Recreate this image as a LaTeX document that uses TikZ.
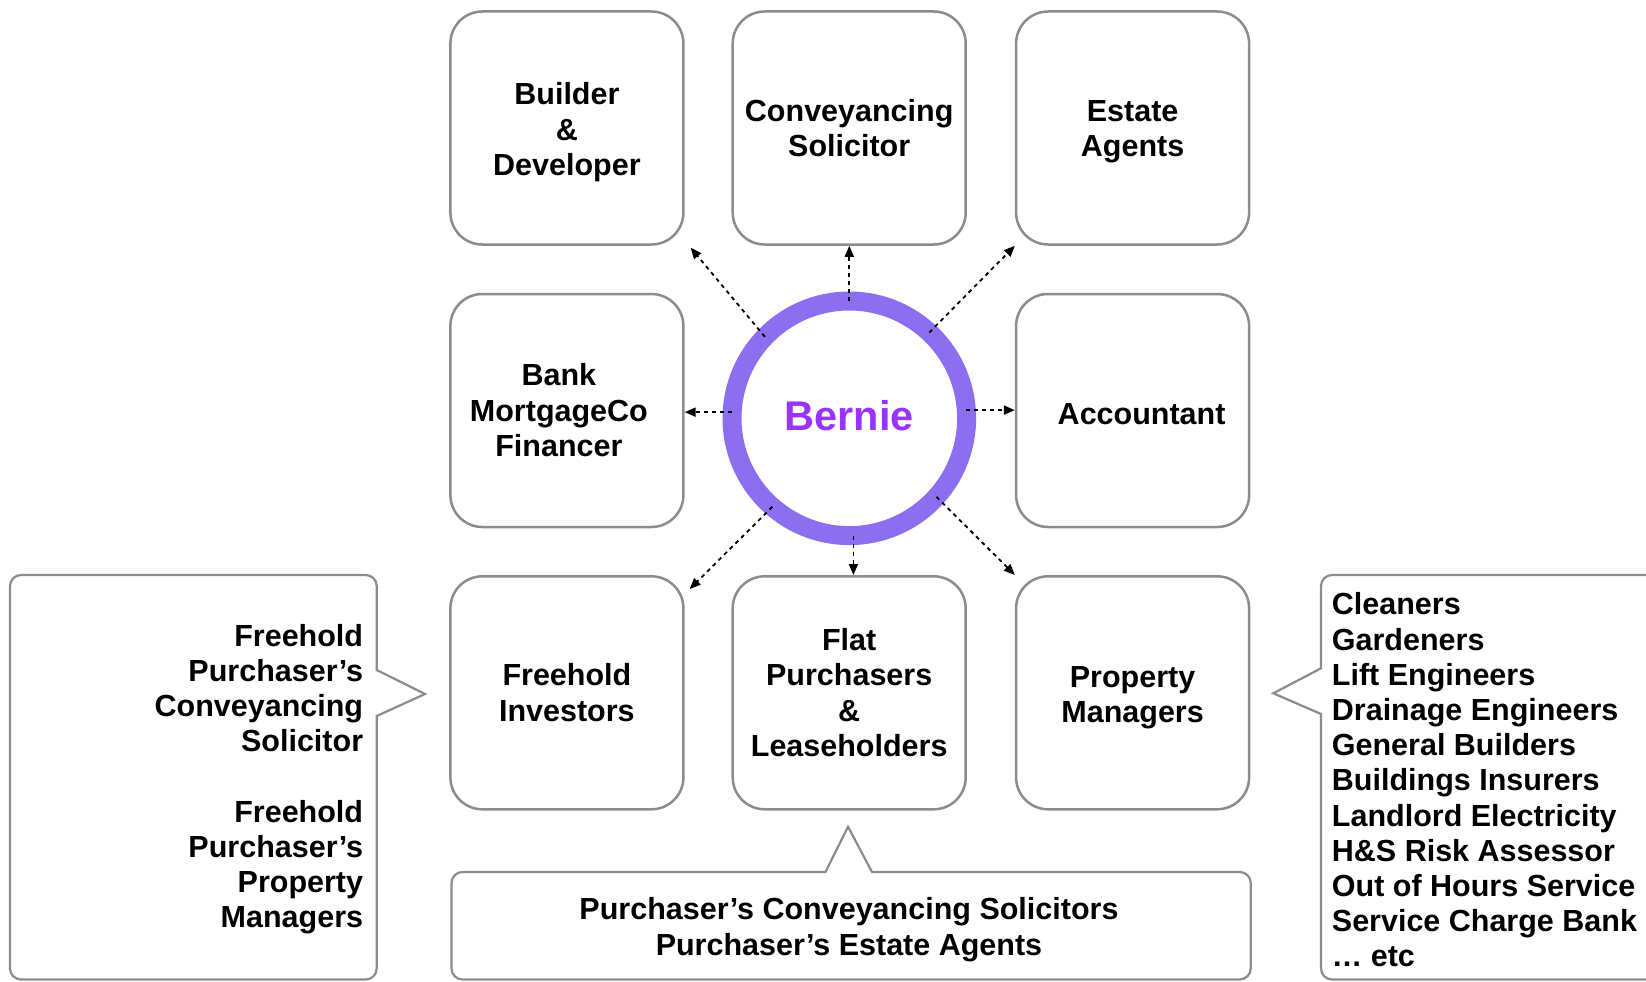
\documentclass[tikz,border=0pt]{standalone}
\usepackage{fontspec}
\setmainfont{Liberation Sans}
\usetikzlibrary{arrows.meta}
\definecolor{boxgray}{RGB}{140,140,140}
\definecolor{ringviolet}{RGB}{140,110,240}
\definecolor{berniepurple}{RGB}{153,51,255}
% a zero-width strut that makes the first line taller, lowering the block
\newcommand{\tallfirst}[1]{\rule{0pt}{#1}}

\begin{document}
\begin{tikzpicture}[x=1pt,y=-1pt,
  party/.style={draw=boxgray, line width=2.5pt, rounded corners=32pt,
    minimum width=233pt, minimum height=233pt, inner sep=0pt, align=center,
    font=\fontsize{30.5}{35.5}\selectfont\bfseries},
  link/.style={draw=black, line width=1.8pt, dash pattern=on 4pt off 4pt,
    -{Triangle[length=11pt,width=9pt]}},
  callout/.style={draw=boxgray, line width=2.2pt},
  calltext/.style={font=\fontsize{30.5}{35.2}\selectfont\bfseries, inner sep=0pt},
]
\useasboundingbox (0,0) rectangle (1646,982);
\clip (0,0) rectangle (1646,982);

% the eight parties around Bernie
\node[party] (builder) at (566.9,128)   {\tallfirst{30.4pt}Builder\\\&\\Developer};
\node[party] (conv)    at (849.2,128)   {Conveyancing\\Solicitor};
\node[party] (estate)  at (1132.6,128)  {\tallfirst{28.4pt}Estate\\Agents};
\node[party] (bank)    at (566.9,410.5) {\hspace*{-16pt}Bank\\\hspace*{-16pt}MortgageCo\\\hspace*{-16pt}Financer};
\node[party] (acct)    at (1132.6,410.5){\tallfirst{27.5pt}\hspace*{18pt}Accountant};
\node[party] (fhinv)   at (566.9,692.8) {Freehold\\Investors};
\node[party] (flat)    at (849.2,692.8) {Flat\\Purchasers\\\&\\Leaseholders};
\node[party] (pm)      at (1132.6,692.8){\tallfirst{30.4pt}Property\\Managers};

% central ring
\node[circle, draw=ringviolet, line width=19pt, minimum size=234.6pt,
  inner sep=0pt, outer sep=0pt, text=berniepurple,
  font=\fontsize{41.5}{48}\selectfont\bfseries] (bernie) at (849.3,418.3)
  {Bernie\rule[-6pt]{0pt}{6pt}};

% links from Bernie
\draw[link] (bernie.136) -- ([shift={(6,2)}]builder.south east);
\draw[link] (bernie.90) -- (bernie.90 |- conv.south);
\draw[link] (bernie.47.6) -- (estate.south west);
\draw[link] (bernie.177) -- (bernie.177 -| bank.east);
\draw[link] (bernie.4) -- (bernie.4 -| acct.west);
\draw[link] (bernie.-88.5) -- (bernie.-88.5 |- flat.north);
\draw[link] (bernie.229.5) -- ([shift={(5,14)}]fhinv.north east);
\draw[link] (bernie.-42) -- (pm.north west);

% left callout
\draw[callout] (10,800) [rounded corners=11pt] -- (10,575) -- (376.7,575) -- (376.7,620)
  [sharp corners] -- (376.7,670) -- (425,694) -- (376.7,716) -- (376.7,850)
  [rounded corners=11pt] -- (376.7,979.5) -- (10,979.5) -- cycle;
\node[calltext, anchor=east, align=right] (freeholdside) at (363.3,779)
  {Freehold\\Purchaser’s\\Conveyancing\\Solicitor\\~\\Freehold\\Purchaser’s\\Property\\Managers};

% right callout
\draw[callout] (1500,575) [rounded corners=11pt] -- (1321,575) -- (1321,620)
  [sharp corners] -- (1321,668.3) -- (1273.3,693.3) -- (1321,714) -- (1321,850)
  [rounded corners=11pt] -- (1321,979.5) -- (1700,979.5) -- (1700,575) -- cycle;
\node[calltext, anchor=west, align=left] (services) at (1331.7,780)
  {Cleaners\\Gardeners\\Lift Engineers\\Drainage Engineers\\General Builders\\Buildings Insurers\\Landlord Electricity\\H\&S Risk Assessor\\Out of Hours Service\\Service Charge Bank\\… etc};

% bottom callout
\draw[callout] (451.5,930) [rounded corners=11pt] -- (451.5,872) -- (780,872)
  [sharp corners] -- (825.5,872) -- (848,826.7) -- (872,872) -- (950,872)
  [rounded corners=11pt] -- (1250.7,872) -- (1250.7,979.5) -- (451.5,979.5) -- cycle;
\node[calltext, align=center] (buyers) at (849,929.7)
  {Purchaser’s Conveyancing Solicitors\\Purchaser’s Estate Agents};
\end{tikzpicture}
\end{document}
